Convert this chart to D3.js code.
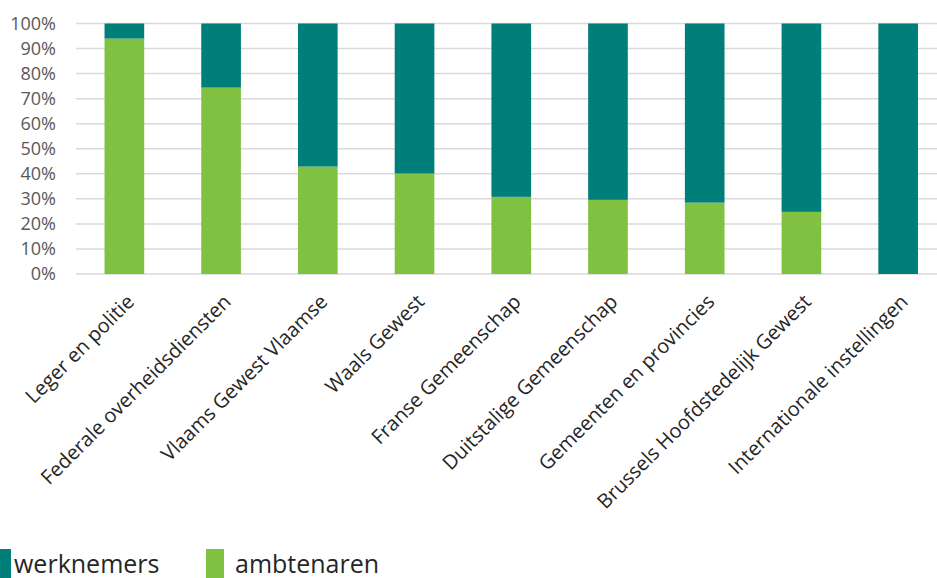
<!DOCTYPE html>
<html>
<head>
<meta charset="utf-8">
<script src="https://cdn.jsdelivr.net/npm/d3@7"></script>
<style>
  body { margin: 0; background: #fff; }
  svg { display: block; }
</style>
</head>
<body>
<script>
// categories and shares (ambtenaren share, rest = werknemers)
let categories = [
  "Leger en politie",
  "Federale overheidsdiensten",
  "Vlaams Gewest Vlaamse",
  "Waals Gewest",
  "Franse Gemeenschap",
  "Duitstalige Gemeenschap",
  "Gemeenten en provincies",
  "Brussels Hoofdstedelijk Gewest",
  "Internationale instellingen",
];
let ambtenaren = [0.94, 0.744, 0.429, 0.401, 0.308, 0.296, 0.285, 0.248, 0];
let werknemers = ambtenaren.map((d) => 1 - d);
let tickValues = [0, 0.1, 0.2, 0.3, 0.4, 0.5, 0.6, 0.7, 0.8, 0.9, 1];
let seriesNames = ["werknemers", "ambtenaren"];

let width = 937;
let height = 578;
let colour = { werknemers: "#007f7a", ambtenaren: "#80c142" };

let rows = categories.map((c, i) => ({
  cat: c,
  ambtenaren: ambtenaren[i],
  werknemers: werknemers[i],
}));

let svg = d3
  .select("body")
  .append("svg")
  .attr("width", width)
  .attr("height", height);

let x = d3
  .scaleBand()
  .domain(categories)
  .range([76, 946.5])
  .paddingInner(0.59)
  .paddingOuter(0.295);

let y = d3.scaleLinear().domain([0, 1]).range([274, 23.5]);

// gridlines
svg
  .append("g")
  .selectAll("line")
  .data(tickValues)
  .join("line")
  .attr("x1", 76)
  .attr("x2", width)
  .attr("y1", (d) => y(d))
  .attr("y2", (d) => y(d))
  .attr("stroke", "#d9d9d9")
  .attr("stroke-width", 1.5);

// y axis labels
let yAxis = d3
  .axisLeft(y)
  .tickValues(tickValues)
  .tickFormat(d3.format(".0%"))
  .tickSize(0)
  .tickPadding(0);

svg
  .append("g")
  .attr("transform", "translate(56,0)")
  .call(yAxis)
  .call((g) => g.select(".domain").remove())
  .call((g) =>
    g
      .selectAll("text")
      .attr("fill", "#595959")
      .attr("font-family", "'Open Sans', sans-serif")
      .attr("font-size", 18)
  );

// stacked bars
let stack = d3.stack().keys(["ambtenaren", "werknemers"]);
let stacked = stack(rows);

svg
  .append("g")
  .selectAll("g")
  .data(stacked)
  .join("g")
  .attr("fill", (s) => colour[s.key])
  .selectAll("rect")
  .data((s) => s)
  .join("rect")
  .attr("x", (d) => x(d.data.cat))
  .attr("width", x.bandwidth())
  .attr("y", (d) => y(d[1]))
  .attr("height", (d) => y(d[0]) - y(d[1]));

// category labels, rotated
svg
  .append("g")
  .selectAll("text")
  .data(categories)
  .join("text")
  .attr(
    "transform",
    (d) => `translate(${x(d) + x.bandwidth() / 2 + 11},${303}) rotate(-45)`
  )
  .attr("text-anchor", "end")
  .attr("font-family", "'Open Sans', sans-serif")
  .attr("font-size", 20)
  .attr("fill", "#262626")
  .text((d) => d);

// legend
let legendX = [0, 206];
let legend = svg
  .append("g")
  .selectAll("g")
  .data(seriesNames)
  .join("g")
  .attr("transform", (d, i) => `translate(${legendX[i]},549)`);

legend
  .append("rect")
  .attr("width", (d, i) => (i === 0 ? 11 : 18))
  .attr("height", 29)
  .attr("fill", (d) => colour[d]);

legend
  .append("text")
  .attr("x", (d, i) => (i === 0 ? 14 : 29))
  .attr("y", 24)
  .attr("font-family", "'Open Sans', sans-serif")
  .attr("font-size", 25)
  .attr("fill", "#262626")
  .text((d) => d);
</script>
</body>
</html>
